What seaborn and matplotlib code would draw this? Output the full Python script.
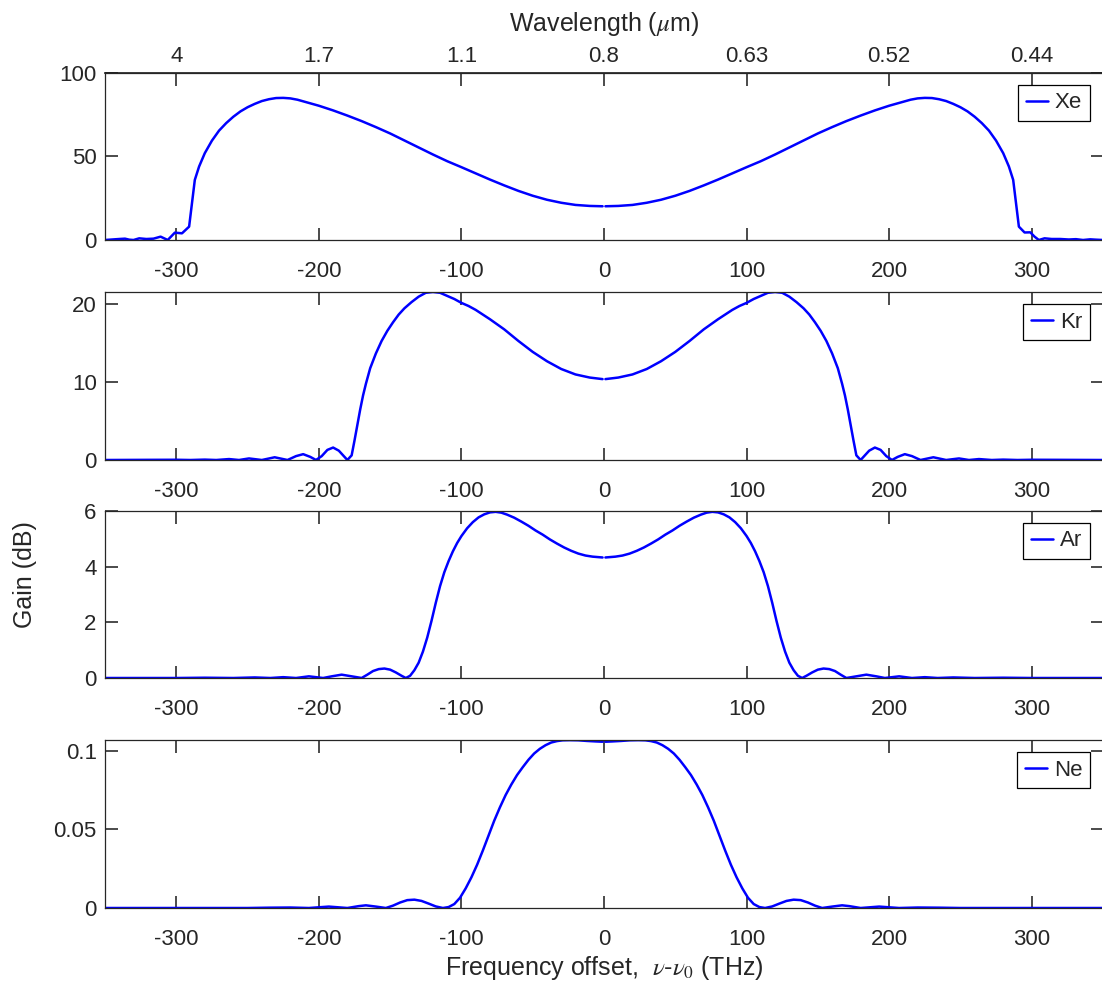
import numpy as np
import pandas as pd
import seaborn as sns
import matplotlib
matplotlib.use("Agg")
import matplotlib.pyplot as plt
from matplotlib.ticker import FuncFormatter

### Gain spectra (freq offset in THz, gain in dB) ###
### each curve has a tiny gap at 0 THz, so it is kept as two halves ###
xe_left_freq = [-350, -345, -340, -336, -333, -330, -326, -321, -316, -311, -306, -301, -296, -291,
                -287, -284, -280, -275, -270, -265, -260, -255, -250, -245, -240, -235, -230, -225,
                -220, -215, -210, -200, -190, -180, -170, -160, -150, -140, -130, -120, -110, -100,
                -90, -80, -70, -60, -50, -40, -30, -20, -10, -1]
xe_left_gain = [0.0, 0.3, 0.6, 0.8, 0.2, 0.0, 1.0, 0.6, 0.8, 2.0, 0.0, 4.4, 4.0, 8.0,
                36.0, 44.0, 52.0, 59.5, 65.5, 70.0, 73.8, 77.0, 79.5, 81.5, 83.2, 84.3, 85.0, 85.1,
                84.8, 84.0, 82.8, 80.4, 77.6, 74.5, 71.2, 67.6, 63.8, 59.6, 55.4, 51.2, 47.2, 43.6,
                39.9, 36.2, 32.7, 29.4, 26.5, 24.1, 22.3, 21.0, 20.4, 20.2]
xe_right_freq = [1, 10, 20, 30, 40, 50, 60, 70, 80, 90, 100, 110, 120, 130, 140, 150, 160, 170, 180,
                 190, 200, 210, 215, 220, 225, 230, 235, 240, 245, 250, 255, 260, 265, 270, 275, 280,
                 284, 287, 291, 295, 299, 302, 305, 309, 314, 320, 326, 331, 336, 341, 345, 350]
xe_right_gain = [20.2, 20.4, 21.0, 22.3, 24.1, 26.5, 29.4, 32.7, 36.2, 39.9, 43.6, 47.2, 51.2, 55.4,
                 59.6, 63.8, 67.6, 71.2, 74.5, 77.6, 80.4, 82.8, 84.0, 84.8, 85.1, 85.0, 84.3, 83.2,
                 81.5, 79.5, 77.0, 73.8, 70.0, 65.5, 59.5, 52.0, 44.0, 36.0, 8.0, 4.5, 4.6, 2.0, 0.0,
                 1.0, 0.6, 0.6, 0.3, 0.5, 0.0, 0.4, 0.2, 0.0]

kr_left_freq = [-350, -320, -300, -290, -280, -272, -263, -256, -249, -240, -231,
                -222, -216, -211, -206, -202, -198, -194, -190, -186, -183, -180,
                -177, -175, -173, -171, -169, -167, -164, -160, -156, -152, -148, -144,
                -140, -135, -130, -125, -120, -115, -110, -105, -100, -95,
                -90, -80, -70, -60, -50, -40, -30, -20, -10, -1]
kr_left_gain = [0.0, 0.02, 0.03, 0.0, 0.05, 0.0, 0.12, 0.0, 0.2, 0.0, 0.35,
                0.0, 0.5, 0.75, 0.4, 0.0, 0.5, 1.3, 1.6, 1.2, 0.6, 0.0,
                0.6, 2.5, 4.5, 6.5, 8.3, 9.8, 11.8, 13.7, 15.3, 16.6, 17.7, 18.7,
                19.5, 20.3, 21.0, 21.5, 21.6, 21.5, 21.1, 20.7, 20.2, 19.8,
                19.3, 18.1, 16.8, 15.3, 13.9, 12.7, 11.7, 11.0, 10.6, 10.4]
kr_right_freq = [1, 10, 20, 30, 40, 50, 60, 70, 80, 90,
                 95, 100, 105, 110, 115, 120, 125, 130, 135, 140,
                 144, 148, 152, 156, 160, 164, 167, 169, 171, 173, 175, 177,
                 180, 183, 186, 190, 194, 198, 202, 206, 211, 216, 222,
                 231, 240, 249, 256, 263, 272, 280, 290, 300, 320, 350]
kr_right_gain = [10.4, 10.6, 11.0, 11.7, 12.7, 13.9, 15.3, 16.8, 18.1, 19.3,
                 19.8, 20.2, 20.7, 21.1, 21.5, 21.6, 21.5, 21.0, 20.3, 19.5,
                 18.7, 17.7, 16.6, 15.3, 13.7, 11.8, 9.8, 8.3, 6.5, 4.5, 2.5, 0.6,
                 0.0, 0.6, 1.2, 1.6, 1.3, 0.5, 0.0, 0.4, 0.75, 0.5, 0.0,
                 0.35, 0.0, 0.2, 0.0, 0.12, 0.0, 0.05, 0.0, 0.03, 0.02, 0.0]

ar_left_freq = [-350, -300, -280, -260, -245, -234, -225, -216, -207, -197,
                -191, -184, -177, -170, -166, -162, -158, -154, -150, -146,
                -142, -139, -136, -133, -130, -127, -124, -121, -118, -115,
                -112, -109, -106, -103, -100, -96, -92, -88, -84, -80,
                -76, -72, -68, -63, -58, -53, -48, -43, -38, -33,
                -28, -23, -18, -13, -8, -1]
ar_left_gain = [0.0, 0.0, 0.01, 0.0, 0.02, 0.0, 0.03, 0.0, 0.06, 0.0,
                0.06, 0.12, 0.06, 0.0, 0.12, 0.25, 0.32, 0.34, 0.3, 0.2,
                0.08, 0.0, 0.08, 0.28, 0.55, 0.95, 1.45, 2.05, 2.7, 3.3,
                3.8, 4.2, 4.55, 4.85, 5.1, 5.38, 5.6, 5.77, 5.88, 5.95,
                5.97, 5.94, 5.87, 5.76, 5.62, 5.47, 5.3, 5.15, 4.98, 4.83,
                4.69, 4.57, 4.47, 4.4, 4.36, 4.33]
ar_right_freq = [1, 8, 13, 18, 23, 28,
                 33, 38, 43, 48, 53, 58, 63, 68, 72, 76,
                 80, 84, 88, 92, 96, 100, 103, 106, 109, 112,
                 115, 118, 121, 124, 127, 130, 133, 136, 139, 142,
                 146, 150, 154, 158, 162, 166, 170, 177, 184, 191,
                 197, 207, 216, 225, 234, 245, 260, 280, 300, 350]
ar_right_gain = [4.33, 4.36, 4.4, 4.47, 4.57, 4.69,
                 4.83, 4.98, 5.15, 5.3, 5.47, 5.62, 5.76, 5.87, 5.94, 5.97,
                 5.95, 5.88, 5.77, 5.6, 5.38, 5.1, 4.85, 4.55, 4.2, 3.8,
                 3.3, 2.7, 2.05, 1.45, 0.95, 0.55, 0.28, 0.08, 0.0, 0.08,
                 0.2, 0.3, 0.34, 0.32, 0.25, 0.12, 0.0, 0.06, 0.12, 0.06,
                 0.0, 0.06, 0.0, 0.03, 0.0, 0.02, 0.0, 0.01, 0.0, 0.0]

ne_left_freq = [-350, -250, -235, -220, -207, -193, -180, -172, -167, -160,
                -153, -148, -143, -138, -133, -128, -123, -118, -113, -109,
                -105, -101, -97, -93, -89, -85, -81, -77, -73, -69,
                -65, -61, -57, -53, -49, -45, -41, -37, -33, -29,
                -24, -18, -12, -6, -1]
ne_left_gain = [0.0, 0.0, 0.0002, 0.0003, 0.0, 0.0009, 0.0, 0.0012, 0.0017, 0.0009,
                0.0, 0.0015, 0.0035, 0.005, 0.0053, 0.0045, 0.0028, 0.001, 0.0, 0.0006,
                0.0025, 0.0065, 0.0125, 0.0195, 0.0275, 0.0365, 0.046, 0.0555, 0.064, 0.0718,
                0.0785, 0.0845, 0.0895, 0.0942, 0.0982, 0.1012, 0.1035, 0.1052, 0.1061, 0.1066,
                0.1067, 0.1066, 0.1062, 0.1059, 0.1057]
ne_right_freq = [1, 6, 12, 18, 24,
                 29, 33, 37, 41, 45, 49, 53, 57, 61, 65,
                 69, 73, 77, 81, 85, 89, 93, 97, 101, 105,
                 109, 113, 118, 123, 128, 133, 138, 143, 148, 153,
                 160, 167, 172, 180, 193, 207, 220, 235, 250, 350]
ne_right_gain = [0.1057, 0.1059, 0.1062, 0.1066, 0.1067,
                 0.1066, 0.1061, 0.1052, 0.1035, 0.1012, 0.0982, 0.0942, 0.0895, 0.0845, 0.0785,
                 0.0718, 0.064, 0.0555, 0.046, 0.0365, 0.0275, 0.0195, 0.0125, 0.0065, 0.0025,
                 0.0006, 0.0, 0.001, 0.0028, 0.0045, 0.0053, 0.005, 0.0035, 0.0015, 0.0,
                 0.0009, 0.0017, 0.0012, 0.0, 0.0009, 0.0, 0.0003, 0.0002, 0.0, 0.0]

gases = ["Xe", "Kr", "Ar", "Ne"]
y_tops = [100, 21.6, 6.0, 0.1068]
y_ticks = [[0, 50, 100], [0, 10, 20], [0, 2, 4, 6], [0, 0.05, 0.1]]
freq_ticks = [-300, -200, -100, 0, 100, 200, 300]
wavelength_labels = ["4", "1.7", "1.1", "0.8", "0.63", "0.52", "0.44"]

### Styling ###
sns.set_theme(style="ticks")
plt.rcParams['font.family'] = ['Liberation Sans', 'DejaVu Sans']
plt.rcParams['mathtext.fontset'] = 'stix'
plt.rcParams['axes.unicode_minus'] = False
plt.rcParams.update({'xtick.bottom': True, 'xtick.top': True,
                     'ytick.left': True, 'ytick.right': True,
                     'xtick.direction': 'in', 'ytick.direction': 'in'})
ink = "#262626"
blue = "#0000ff"
tick_fs = 16
label_fs = 18

fig = plt.figure(figsize=(11.02, 9.81), dpi=100)
W, H = 1102, 981
panel_px = [(73, 240), (292, 460), (511, 678), (740, 908)]  # top / bottom in pixels
left_px, right_px = 105, 1103

halves = [
    ((xe_left_freq, xe_left_gain), (xe_right_freq, xe_right_gain)),
    ((kr_left_freq, kr_left_gain), (kr_right_freq, kr_right_gain)),
    ((ar_left_freq, ar_left_gain), (ar_right_freq, ar_right_gain)),
    ((ne_left_freq, ne_left_gain), (ne_right_freq, ne_right_gain)),
]

axes = []
for i, name in enumerate(gases):
    top, bot = panel_px[i]
    ax = fig.add_axes([left_px / W, 1 - bot / H, (right_px - left_px) / W, (bot - top) / H])
    axes.append(ax)
    for j, (f, g) in enumerate(halves[i]):
        df = pd.DataFrame({"freq": f, "gain": g})
        sns.lineplot(data=df, x="freq", y="gain", ax=ax, color=blue, lw=1.8,
                     estimator=None, sort=False, label=name if j == 0 else None)
    ax.set_xlim(-350, 350)
    ax.set_ylim(0, y_tops[i])
    ax.set_xticks(freq_ticks)
    ax.set_yticks(y_ticks[i])
    ax.yaxis.set_major_formatter(FuncFormatter(lambda v, p: f"{v:g}"))
    ax.set_xlabel("")
    ax.set_ylabel("")
    ax.tick_params(which="major", direction="in", length=9, width=1.1, color="#1a1a1a",
                   labelcolor=ink, labelsize=tick_fs,
                   bottom=True, left=True, right=True, top=(i != 0))
    ax.tick_params(axis="x", pad=15)
    ax.tick_params(axis="y", pad=6)
    for sp in ax.spines.values():
        sp.set_visible(True)
        sp.set_color(ink)
        sp.set_linewidth(0.9)
    leg = ax.legend(loc="upper right", fontsize=tick_fs, handlelength=1.0, handletextpad=0.3,
                    borderpad=0.35, borderaxespad=0, fancybox=False, framealpha=1,
                    bbox_to_anchor=(0.987, 0.93))
    leg.get_frame().set_edgecolor("black")
    leg.get_frame().set_linewidth(0.9)

### Wavelength scale on top of first panel ###
sec = axes[0].secondary_xaxis("top")
sec.set_xticks(freq_ticks, labels=wavelength_labels)
sec.tick_params(direction="in", length=9, width=1.1, color="#1a1a1a", labelcolor=ink,
                labelsize=tick_fs, pad=4)
sec.set_xlabel(r"Wavelength ($\mu$m)", fontsize=label_fs, color=ink, labelpad=11)

axes[-1].set_xlabel(r"Frequency offset,  $\nu$-$\nu_0$ (THz)", fontsize=label_fs, color=ink, labelpad=3)
fig.text(25 / W, 1 - 575 / H, "Gain (dB)", rotation=90, ha="center", va="center",
         fontsize=label_fs, color=ink)

fig.savefig("out.png", dpi=100)
